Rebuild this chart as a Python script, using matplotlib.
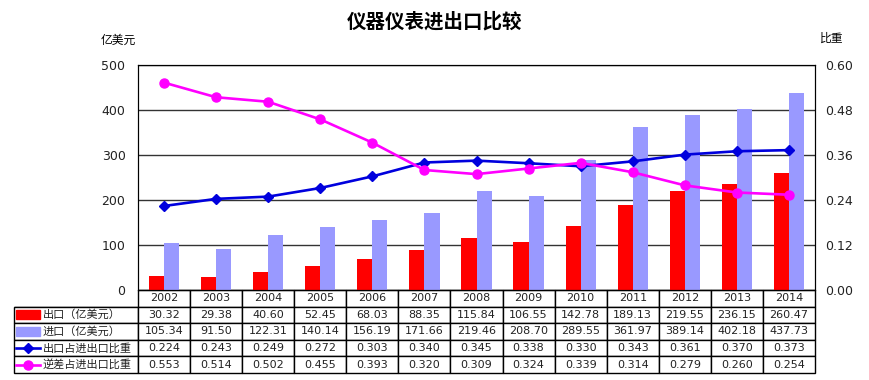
import numpy as np
import matplotlib.pyplot as plt
from matplotlib.patches import Rectangle
from matplotlib.lines import Line2D
from matplotlib.table import Table

plt.rcParams['font.family'] = ['DejaVu Sans', 'Noto Sans CJK SC']

years = ['2002', '2003', '2004', '2005', '2006', '2007', '2008',
         '2009', '2010', '2011', '2012', '2013', '2014']
export = [30.32, 29.38, 40.60, 52.45, 68.03, 88.35, 115.84,
          106.55, 142.78, 189.13, 219.55, 236.15, 260.47]
imports = [105.34, 91.50, 122.31, 140.14, 156.19, 171.66, 219.46,
           208.70, 289.55, 361.97, 389.14, 402.18, 437.73]
export_share = [0.224, 0.243, 0.249, 0.272, 0.303, 0.340, 0.345,
                0.338, 0.330, 0.343, 0.361, 0.370, 0.373]
deficit_share = [0.553, 0.514, 0.502, 0.455, 0.393, 0.320, 0.309,
                 0.324, 0.339, 0.314, 0.279, 0.260, 0.254]
row_labels = ['出口（亿美元）', '进口（亿美元）', '出口占进出口比重', '逆差占进出口比重']

c_exp = '#ff0000'
c_imp = '#9999ff'
c_share = '#0000dd'
c_def = '#ff00ff'

W, H = 870, 380
fig = plt.figure(figsize=(W / 100, H / 100), dpi=100)
# plot area in pixels: x 138..815, y 65..290
pw, ph = 677, 225
ax = fig.add_axes([138 / W, 1 - 290 / H, pw / W, ph / H])

x = np.arange(len(years))
bw = 0.29
ax.bar(x - bw / 2, export, bw, color=c_exp, zorder=2)
ax.bar(x + bw / 2, imports, bw, color=c_imp, zorder=2)
ax.set_xlim(-0.5, len(years) - 0.5)
ax.set_ylim(0, 500)
ax.set_yticks(range(0, 501, 100))
ax.set_xticks([])
ax.grid(axis='y', color='#333333', lw=1, zorder=0)
ax.tick_params(axis='y', length=0, labelsize=9, pad=9, labelcolor='#222222')
for s in ax.spines.values():
    s.set_color('black')

ax2 = ax.twinx()
ax2.set_ylim(0, 0.6)
ax2.set_yticks(np.arange(0, 0.61, 0.12))
ax2.yaxis.set_major_formatter(lambda v, p: f'{v:.2f}')
ax2.tick_params(axis='y', length=0, labelsize=9, pad=7, labelcolor='#222222')
ax2.plot(x, export_share, color=c_share, lw=1.9, marker='D', ms=5)
ax2.plot(x, deficit_share, color=c_def, lw=1.9, marker='o', ms=6.5)

# data table under the plot
nrow = 5
rh = 83 / nrow / ph
lab_w = 124
tab = Table(ax, bbox=[-lab_w / pw, -83 / ph, (lab_w + pw) / pw, 83 / ph])
cells = [
    [f'{v:.2f}' for v in export],
    [f'{v:.2f}' for v in imports],
    [f'{v:.3f}' for v in export_share],
    [f'{v:.3f}' for v in deficit_share],
]
hdr = tab.add_cell(0, 0, lab_w, 1, text='')
hdr.visible_edges = 'B'
for j, yr in enumerate(years):
    tab.add_cell(0, j + 1, pw / len(years), 1, text=yr, loc='center')
for i, lab in enumerate(row_labels):
    c = tab.add_cell(i + 1, 0, lab_w, 1, text=lab, loc='left')
    c.PAD = 29 / lab_w
    for j, val in enumerate(cells[i]):
        tab.add_cell(i + 1, j + 1, pw / len(years), 1, text=val, loc='center')
tab.auto_set_font_size(False)
tab.set_fontsize(8)
for cell in tab.get_celld().values():
    cell.set_linewidth(1)
    cell.set_edgecolor('black')
    cell.get_text().set_color('#222222')
ax.add_table(tab)

# legend keys in the label column
kx0 = (16 - 138) / pw
kx1 = (40 - 138) / pw
kxm = (kx0 + kx1) / 2
for i, col in enumerate([c_exp, c_imp]):
    yc = -(i + 1.5) * rh
    ax.add_patch(Rectangle((kx0, yc - 4.5 / ph), kx1 - kx0, 9 / ph, color=col,
                           transform=ax.transAxes, clip_on=False))
for i, (col, mk, ms) in enumerate([(c_share, 'D', 5), (c_def, 'o', 6.5)]):
    yc = -(i + 3.5) * rh
    ax.add_line(Line2D([kx0, kx1], [yc, yc], color=col, lw=1.9,
                       transform=ax.transAxes, clip_on=False))
    ax.add_line(Line2D([kxm], [yc], color=col, marker=mk, ms=ms,
                       transform=ax.transAxes, clip_on=False))

fig.text(435 / W, 1 - 22 / H, '仪器仪表进出口比较', ha='center', va='center',
         fontsize=14, fontweight='bold')
fig.text(118 / W, 1 - 40 / H, '亿美元', ha='center', va='center', fontsize=8.5)
fig.text(832 / W, 1 - 38 / H, '比重', ha='center', va='center', fontsize=8.5)

fig.savefig('out.png', dpi=100)
